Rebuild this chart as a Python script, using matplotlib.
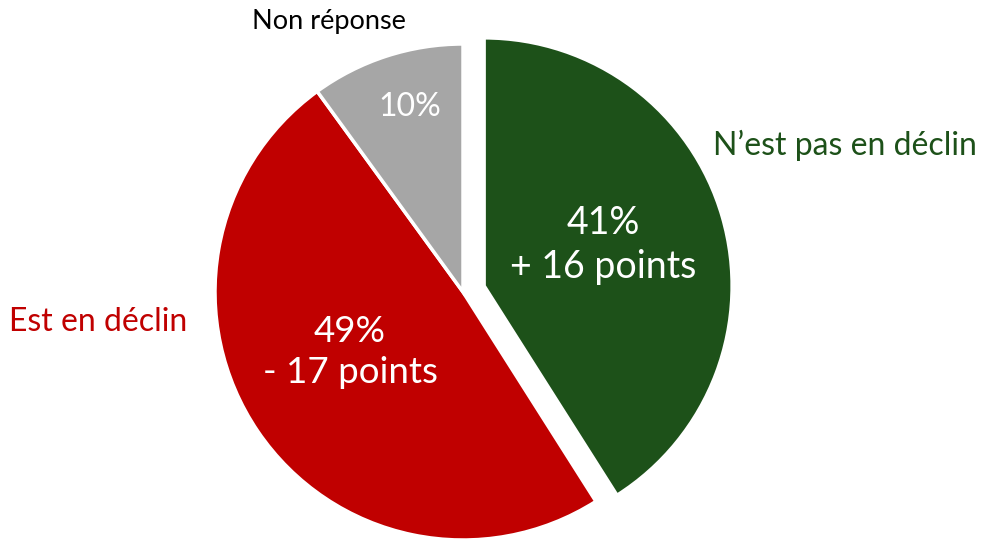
import matplotlib.pyplot as plt

# parts de réponses (%)
labels = ["N\u2019est pas en déclin", "Est en déclin", "Non réponse"]
values = [41, 49, 10]
changes = ["+ 16 points", "- 17 points", None]
colors = ["#1d5119", "#c00000", "#a6a6a6"]
label_colors = ["#1d5119", "#c00000", "#000000"]

plt.rcParams['font.family'] = ['Lato', 'DejaVu Sans']

fig = plt.figure(figsize=(9.84, 5.4), dpi=100)
ax = fig.add_axes([0, 0, 1, 1])

# explode est en unités de données ici (rayon = 248)
ax.pie(values, colors=colors, startangle=90, counterclock=False,
       center=(463, 248), radius=248, explode=[22, 0, 0],
       wedgeprops=dict(edgecolor='white', linewidth=2.5))
ax.set_xlim(0, 984)
ax.set_ylim(0, 540)
ax.set_aspect('equal')
ax.axis('off')

# valeurs dans les parts
def inner(i):
    txt = f"{values[i]}%"
    if changes[i]:
        txt += "\n" + changes[i]
    return txt

ax.text(603, 295, inner(0), color='white', fontsize=27, ha='center', va='center', linespacing=1.3)
ax.text(350, 188, inner(1), color='white', fontsize=26.5, ha='center', va='center', linespacing=1.3)
ax.text(410, 433, inner(2), color='white', fontsize=23, ha='center', va='center')

# étiquettes extérieures
ax.text(845, 395, labels[0], color=label_colors[0], fontsize=23, ha='center', va='center')
ax.text(98, 218, labels[1], color=label_colors[1], fontsize=23, ha='center', va='center')
ax.text(329, 518, labels[2], color=label_colors[2], fontsize=19.5, ha='center', va='center')

fig.savefig('out.png', dpi=100)
